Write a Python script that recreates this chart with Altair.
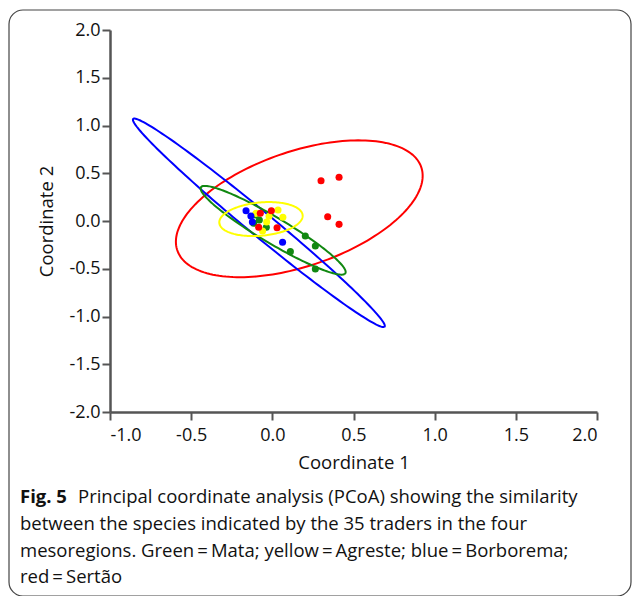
import numpy as np
import pandas as pd
import altair as alt

# ---- point data ----
mata_x = [-0.105, -0.115, -0.080, -0.037, 0.203, 0.265, 0.111, 0.265]
mata_y = [0.063, -0.024, 0.010, -0.066, -0.157, -0.262, -0.321, -0.503]
agreste_x = [0.035, 0.065, -0.035, -0.060, -0.100, -0.020]
agreste_y = [0.115, 0.040, -0.010, -0.105, 0.080, 0.050]
borborema_x = [-0.162, -0.132, -0.123, 0.063]
borborema_y = [0.108, 0.052, -0.010, -0.223]
sertao_x = [0.300, 0.411, 0.341, 0.411, -0.074, -0.006, -0.084, 0.029]
sertao_y = [0.422, 0.458, 0.045, -0.035, 0.081, 0.108, -0.066, -0.070]

groups = ["Mata", "Agreste", "Borborema", "Sertão"]
colors = ["#118811", "#ffff00", "#0000ff", "#ff0000"]

# ---- ellipse parameters (center, semi-axes, angle in degrees) ----
ell_group = ["Sertão", "Borborema", "Mata", "Agreste"]
ell_cx = [0.166, -0.083, 0.005, -0.070]
ell_cy = [0.128, -0.019, -0.097, 0.020]
ell_a = [0.900, 1.336, 0.635, 0.261]
ell_b = [0.530, 0.095, 0.111, 0.172]
ell_ang = [41.5, -54.7, -46.2, 13.7]

x_ticks = [-1.0, -0.5, 0.0, 0.5, 1.0, 1.5, 2.0]
y_ticks = [-2.0, -1.5, -1.0, -0.5, 0.0, 0.5, 1.0, 1.5, 2.0]

caption_bold = "Fig. 5"
caption_lines = [
    "Principal coordinate analysis (PCoA) showing the similarity",
    "between the species indicated by the 35 traders in the four",
    "mesoregions. Green\u2009=\u2009Mata; yellow\u2009=\u2009Agreste; blue\u2009=\u2009Borborema;",
    "red\u2009=\u2009Sertão",
]

# ---- build tables ----
pts = []
for g, xs_, ys_ in [("Mata", mata_x, mata_y), ("Agreste", agreste_x, agreste_y),
                    ("Borborema", borborema_x, borborema_y), ("Sertão", sertao_x, sertao_y)]:
    for x, y in zip(xs_, ys_):
        pts.append({"group": g, "x": x, "y": y})
pts = pd.DataFrame(pts)

t = np.linspace(0, 2 * np.pi, 181)
rows = []
for g, cx, cy, a, b, ang in zip(ell_group, ell_cx, ell_cy, ell_a, ell_b, ell_ang):
    th = np.radians(ang)
    ex = cx + a * np.cos(t) * np.cos(th) - b * np.sin(t) * np.sin(th)
    ey = cy + a * np.cos(t) * np.sin(th) + b * np.sin(t) * np.cos(th)
    for i, (xx, yy) in enumerate(zip(ex, ey)):
        rows.append({"group": g, "x": xx, "y": yy, "i": i})
ell = pd.DataFrame(rows)

color_scale = alt.Scale(domain=groups, range=colors)
xs = alt.Scale(domain=[-1, 2], nice=False, zero=False)
ys = alt.Scale(domain=[-2, 2], nice=False, zero=False)

label_expr = "(datum.value < 0 ? '-' : '') + format(abs(datum.value), '.1f')"
ax_common = dict(grid=False, domainColor="#555555", domainWidth=2.5, tickColor="#555555",
                 tickWidth=2, tickSize=8, labelFont="Open Sans", labelFontSize=18,
                 labelColor="#111111", titleFont="Open Sans",
                 titleFontSize=18.5, titleFontWeight="normal", titleColor="#111111",
                 labelExpr=label_expr)

ellipses = alt.Chart(ell).mark_line(strokeWidth=2).encode(
    x=alt.X("x:Q", scale=xs, axis=alt.Axis(values=x_ticks, title="Coordinate 1",
                                           labelPadding=6, titlePadding=9, **ax_common)),
    y=alt.Y("y:Q", scale=ys, axis=alt.Axis(values=y_ticks, title="Coordinate 2",
                                           labelPadding=2, titlePadding=12, **ax_common)),
    color=alt.Color("group:N", scale=color_scale, legend=None),
    detail="group:N",
    order="i:Q",
)

points = alt.Chart(pts).mark_circle(size=50, opacity=1).encode(
    x=alt.X("x:Q", scale=xs),
    y=alt.Y("y:Q", scale=ys),
    color=alt.Color("group:N", scale=color_scale, legend=None),
)

frame = alt.Chart(pd.DataFrame({"k": [0]})).mark_rect(
    fill=None, stroke="#444444", strokeWidth=1.2, cornerRadius=14
).encode(x=alt.value(-101), x2=alt.value(521), y=alt.value(-20), y2=alt.value(566))

cap_size = 18.5
texts = []
texts.append(alt.Chart(pd.DataFrame({"t": [caption_bold]})).mark_text(
    font="Open Sans", fontSize=cap_size, fontWeight="bold", align="left", baseline="middle",
    color="#111111").encode(text="t:N", x=alt.value(-90), y=alt.value(467)))
offs = [(-32, 467), (-90, 494), (-90, 521), (-90, 547)]
for line, (ox, oy) in zip(caption_lines, offs):
    texts.append(alt.Chart(pd.DataFrame({"t": [line]})).mark_text(
        font="Open Sans", fontSize=cap_size, align="left", baseline="middle",
        color="#111111").encode(text="t:N", x=alt.value(ox), y=alt.value(oy)))

chart = alt.layer(frame, ellipses, points, *texts).properties(
    width=487, height=382,
    padding={"left": 110, "top": 30, "right": 35, "bottom": 184},
    autosize="none",
).configure_view(stroke=None)

chart.save("out.html", embed_options={"renderer": "svg", "actions": False})
